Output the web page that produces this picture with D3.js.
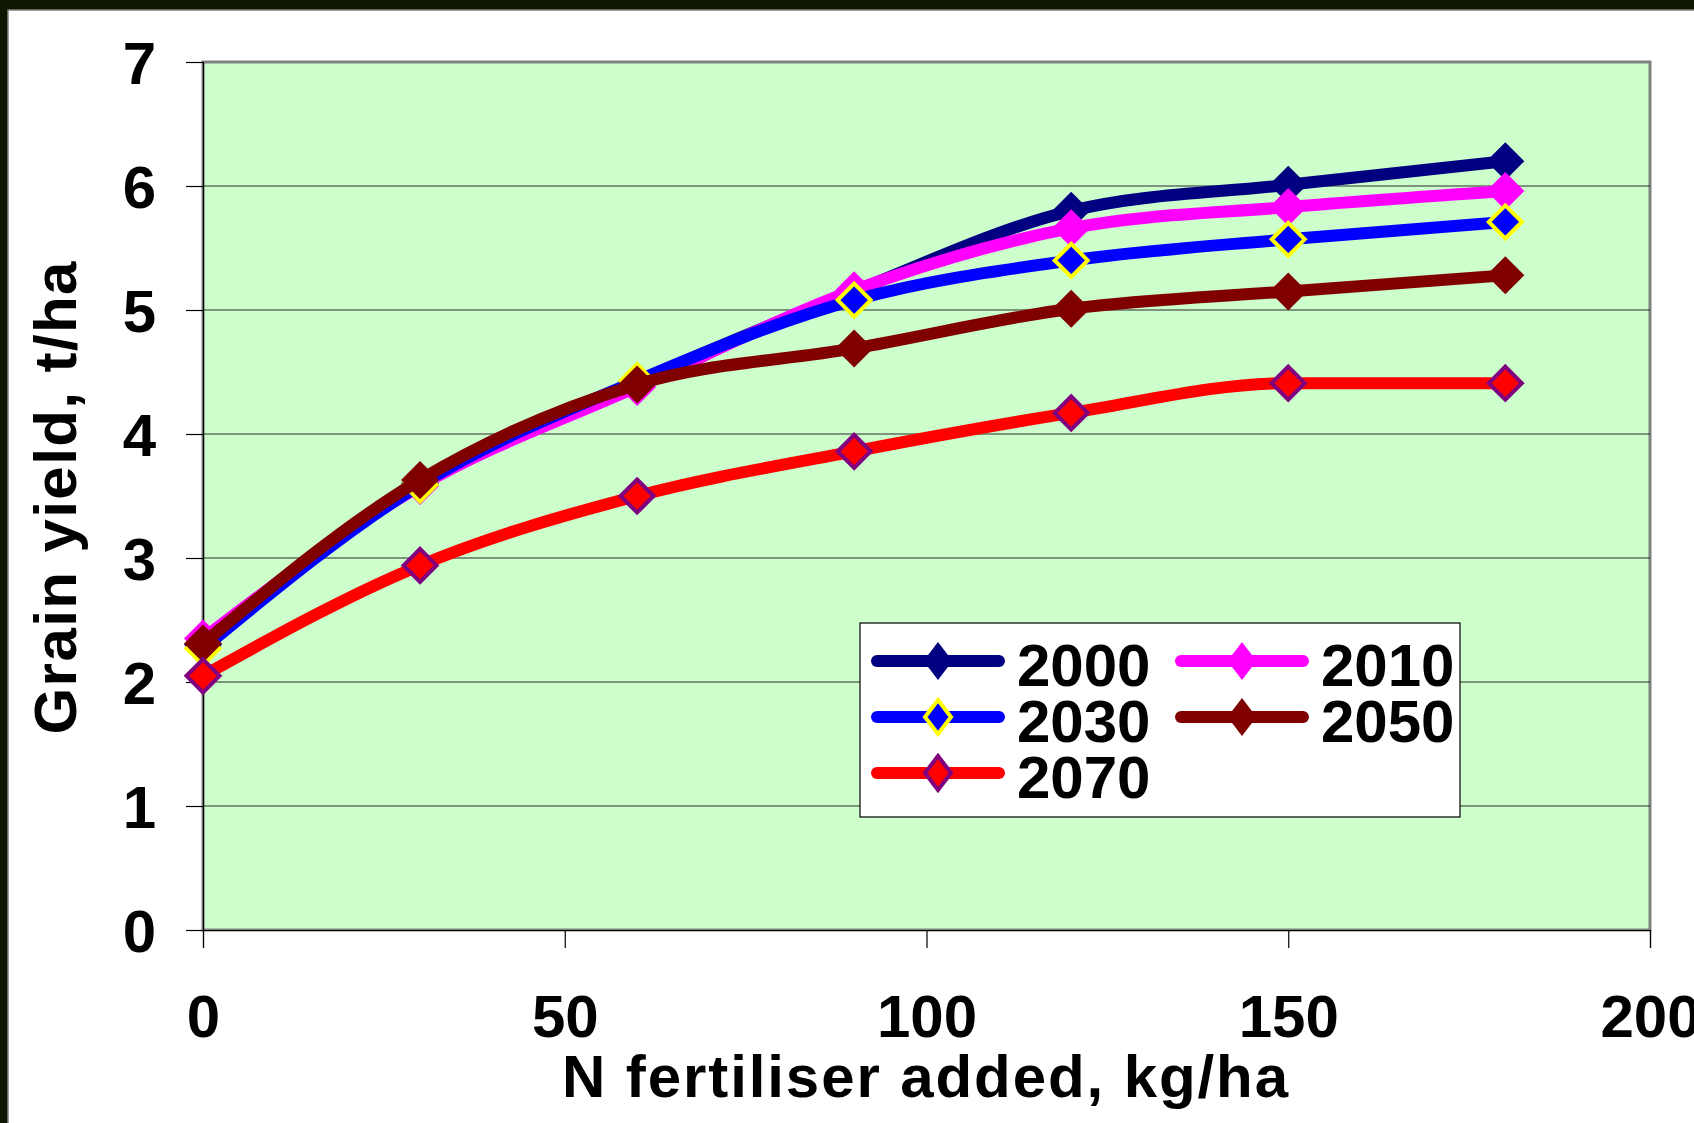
<!DOCTYPE html>
<html><head><meta charset="utf-8">
<script src="https://cdn.jsdelivr.net/npm/d3@7"></script>
<style>html,body{margin:0;padding:0;background:#0d1600;overflow:hidden}</style>
</head><body>
<script>
const nRates = [0, 30, 60, 90, 120, 150, 180];
const seriesNames = ["2000", "2010", "2030", "2050", "2070"];
const y2000 = [2.30, 3.60, 4.42, 5.15, 5.80, 6.01, 6.20];
const y2010 = [2.35, 3.58, 4.38, 5.16, 5.66, 5.83, 5.96];
const y2030 = [2.27, 3.59, 4.43, 5.08, 5.40, 5.57, 5.71];
const y2050 = [2.31, 3.63, 4.40, 4.69, 5.01, 5.15, 5.28];
const y2070 = [2.05, 2.94, 3.50, 3.86, 4.17, 4.41, 4.41];
const xTicks = [0, 50, 100, 150, 200];
const yTicks = [0, 1, 2, 3, 4, 5, 6, 7];
const xTitle = "N fertiliser added, kg/ha";
const yTitle = "Grain yield, t/ha";

const seriesValues = [y2000, y2010, y2030, y2050, y2070];
const styles = [
  {line: "#000080", fill: "#000080", stroke: null},
  {line: "#FF00FF", fill: "#FF00FF", stroke: null},
  {line: "#0000FF", fill: "#0000FF", stroke: "#FFFF00"},
  {line: "#800000", fill: "#800000", stroke: null},
  {line: "#FF0000", fill: "#FF0000", stroke: "#800080"}
];

const W = 1694, H = 1123;
const svg = d3.select("body").append("svg").attr("width", W).attr("height", H)
  .style("display", "block");
const FONT = "'Liberation Sans', Arial, sans-serif";

// slide frame
svg.append("rect").attr("width", W).attr("height", H).attr("fill", "#0d1600");
svg.append("rect").attr("x", 8).attr("y", 10).attr("width", W).attr("height", H)
  .attr("fill", "#ffffff").attr("stroke", "#808080").attr("stroke-width", 1.5);

const x = d3.scaleLinear().domain([0, 200]).range([203, 1650]);
const y = d3.scaleLinear().domain([0, 7]).range([930, 62]);

// plot area
svg.append("rect").attr("x", x(0)).attr("y", y(7)).attr("width", x(200) - x(0)).attr("height", y(0) - y(7))
  .attr("fill", "#CCFFCC").attr("stroke", "#808080").attr("stroke-width", 3);

// gridlines
svg.append("g").selectAll("line").data(yTicks.filter(d => d > 0 && d < 7)).join("line")
  .attr("x1", x(0)).attr("x2", x(200)).attr("y1", d => y(d)).attr("y2", d => y(d))
  .attr("stroke", "#2a2a2a").attr("stroke-width", 1.2);

// axes
const yAxis = svg.append("g").attr("transform", `translate(${x(0)},0)`)
  .call(d3.axisLeft(y).tickValues(yTicks).tickSize(17).tickPadding(30).tickFormat(d3.format("d")));
const xAxis = svg.append("g").attr("transform", `translate(0,${y(0)})`)
  .call(d3.axisBottom(x).tickValues(xTicks).tickSize(18).tickPadding(46).tickFormat(d3.format("d")));
[yAxis, xAxis].forEach(g => {
  g.select(".domain").attr("stroke", "#000").attr("stroke-width", 1.2);
  g.selectAll(".tick line").attr("stroke", "#000").attr("stroke-width", 1.2);
  g.selectAll("text").attr("font-family", FONT).attr("font-weight", "bold")
    .attr("font-size", 60).attr("fill", "#000");
});
yAxis.selectAll("text").attr("dy", "0.36em");
xAxis.selectAll("text").attr("dy", "0.71em");

// titles
svg.append("text").attr("x", 925).attr("y", 1097).attr("text-anchor", "middle")
  .attr("font-family", FONT).attr("font-weight", "bold").attr("font-size", 60)
  .attr("textLength", 726).attr("lengthAdjust", "spacing").text(xTitle);
svg.append("text").attr("transform", "translate(76,498) rotate(-90)").attr("text-anchor", "middle")
  .attr("font-family", FONT).attr("font-weight", "bold").attr("font-size", 60)
  .attr("textLength", 473).attr("lengthAdjust", "spacing").text(yTitle);

// series
const line = d3.line().x(d => x(d[0])).y(d => y(d[1])).curve(d3.curveMonotoneX);
function diamond(hw, hh) {
  return `M0,${-hh}L${hw},0L0,${hh}L${-hw},0Z`;
}
const plot = svg.append("g");
seriesValues.forEach((vals, i) => {
  const st = styles[i];
  const pts = nRates.map((n, j) => [n, vals[j]]);
  const g = plot.append("g");
  g.append("path").attr("d", line(pts)).attr("fill", "none").attr("stroke", st.line)
    .attr("stroke-width", 12).attr("stroke-linejoin", "round");
  g.selectAll("path.m").data(pts).join("path").attr("class", "m")
    .attr("transform", d => `translate(${x(d[0])},${y(d[1])})`)
    .attr("d", st.stroke ? diamond(16.5, 16.5) : diamond(19, 19))
    .attr("fill", st.fill)
    .attr("stroke", st.stroke || "none").attr("stroke-width", st.stroke ? 4 : 0);
});

// legend
const lg = svg.append("g");
lg.append("rect").attr("x", 860).attr("y", 623).attr("width", 600).attr("height", 194)
  .attr("fill", "#fff").attr("stroke", "#000").attr("stroke-width", 1.2);
const legPos = [[0, 0], [1, 0], [0, 1], [1, 1], [0, 2]];
seriesNames.forEach((name, i) => {
  const st = styles[i];
  const cx = legPos[i][0] === 0 ? 871 : 1175;
  const cy = 661 + legPos[i][1] * 56;
  const g = lg.append("g").attr("transform", `translate(${cx},${cy})`);
  g.append("line").attr("x1", 6).attr("x2", 128).attr("y1", 0).attr("y2", 0)
    .attr("stroke", st.line).attr("stroke-width", 12).attr("stroke-linecap", "round");
  g.append("path").attr("transform", "translate(67,0)")
    .attr("d", st.stroke ? diamond(13, 17) : diamond(14.5, 19))
    .attr("fill", st.fill).attr("stroke", st.stroke || "none").attr("stroke-width", st.stroke ? 4 : 0);
  g.append("text").attr("x", 146).attr("y", 25).attr("font-family", FONT)
    .attr("font-weight", "bold").attr("font-size", 60).attr("fill", "#000").text(name);
});
</script>
</body></html>
